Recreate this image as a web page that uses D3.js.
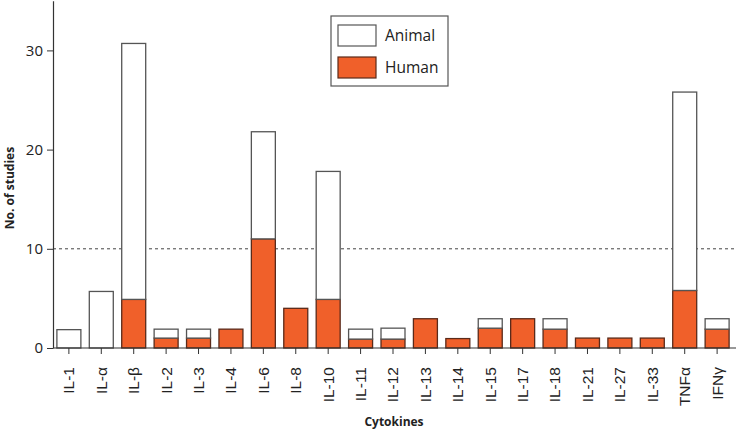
<!DOCTYPE html>
<html>
<head>
<meta charset="utf-8">
<script src="https://cdn.jsdelivr.net/npm/d3@7"></script>
<style>
  html, body { margin: 0; padding: 0; background: #fff; }
  svg { display: block; font-family: "Open Sans", "Noto Sans", sans-serif; }
</style>
</head>
<body>
<svg id="chart" width="736" height="432"></svg>
<script>
const categories = ["IL-1","IL-α","IL-β","IL-2","IL-3","IL-4","IL-6","IL-8","IL-10","IL-11","IL-12","IL-13","IL-14","IL-15","IL-17","IL-18","IL-21","IL-27","IL-33","TNFα","IFNγ"];
const human  = [0, 0, 4.9, 1, 1, 1.9, 11, 4, 4.9, 0.9, 0.9, 2.95, 0.95, 2, 2.95, 1.9, 1, 1, 1, 5.8, 1.9];
const animal = [1.85, 5.7, 25.8, 0.9, 0.9, 0, 10.8, 0, 12.9, 1, 1.1, 0, 0, 0.95, 0, 1.05, 0, 0, 0, 20, 1.05];
const yTicks = [0, 10, 20, 30];
const seriesNames = ["Animal", "Human"];

const colors = { Human: "#f0602a", Animal: "#ffffff" };

const svg = d3.select("#chart");

const x = d3.scaleBand().domain(categories).range([53, 733]).paddingInner(0.26).paddingOuter(0.12);
const y = d3.scaleLinear().domain([0, 35]).range([348, 0.8]);

const data = categories.map((c, i) => ({ cat: c, Human: human[i], Animal: animal[i] }));
const stack = d3.stack().keys(["Human", "Animal"]);
const layers = stack(data);

// reference line at 10
svg.append("line")
  .attr("x1", 53).attr("x2", 736)
  .attr("y1", y(10)).attr("y2", y(10))
  .attr("stroke", "#444").attr("stroke-width", 1)
  .attr("stroke-dasharray", "3,3");

// bars
layers.forEach(layer => {
  const key = layer.key;
  svg.append("g").selectAll("rect")
    .data(layer.filter(d => d[1] - d[0] > 0))
    .join("rect")
    .attr("x", d => x(d.data.cat))
    .attr("width", x.bandwidth())
    .attr("y", d => y(d[1]))
    .attr("height", d => y(d[0]) - y(d[1]))
    .attr("fill", colors[key])
    .attr("stroke", key === "Human" ? "#5a2a1a" : "#555")
    .attr("stroke-width", 1.3);
});

// y axis
const yAxis = d3.axisLeft(y).tickValues(yTicks).tickSize(6).tickPadding(4).tickSizeOuter(0);
const gy = svg.append("g").attr("transform", "translate(53,0)").call(yAxis);
gy.select(".domain").attr("stroke", "#333").attr("stroke-width", 1.2);
gy.selectAll(".tick line").attr("stroke", "#333");
gy.selectAll(".tick text").attr("font-size", 15).attr("fill", "#222").attr("font-family", "'Open Sans', sans-serif");

// x axis
const xAxis = d3.axisBottom(x).tickSize(6).tickSizeOuter(0).tickPadding(0);
const gx = svg.append("g").attr("transform", "translate(0,348)").call(xAxis);
gx.select(".domain").attr("stroke", "#333").attr("stroke-width", 1.2).attr("d", "M53,0H736");
gx.selectAll(".tick line").attr("stroke", "#333");
gx.selectAll(".tick text")
  .attr("font-size", 15.5).attr("fill", "#222")
  .attr("transform", "rotate(-90)")
  .attr("text-anchor", "end")
  .attr("x", -19).attr("y", 0).attr("dy", "0.35em");

// axis titles
svg.append("text")
  .attr("transform", "translate(14,188) rotate(-90)")
  .attr("text-anchor", "middle")
  .attr("font-size", 12).attr("font-weight", "bold").attr("fill", "#222")
  .text("No. of studies");
svg.append("text")
  .attr("x", 394).attr("y", 426)
  .attr("text-anchor", "middle")
  .attr("font-size", 12).attr("font-weight", "bold").attr("fill", "#222")
  .text("Cytokines");

// legend
const lg = svg.append("g");
lg.append("rect").attr("x", 331).attr("y", 16).attr("width", 117).attr("height", 70)
  .attr("fill", "#fff").attr("stroke", "#555").attr("stroke-width", 1.2);
seriesNames.forEach((s, i) => {
  lg.append("rect").attr("x", 338).attr("y", 25 + i * 32).attr("width", 38).attr("height", 21)
    .attr("fill", colors[s]).attr("stroke", s === "Human" ? "#5a2a1a" : "#555").attr("stroke-width", 1.2);
  lg.append("text").attr("x", 385).attr("y", 36 + i * 32).attr("dy", "0.35em")
    .attr("font-size", 15.5).attr("fill", "#222").text(s);
});
</script>
</body>
</html>
